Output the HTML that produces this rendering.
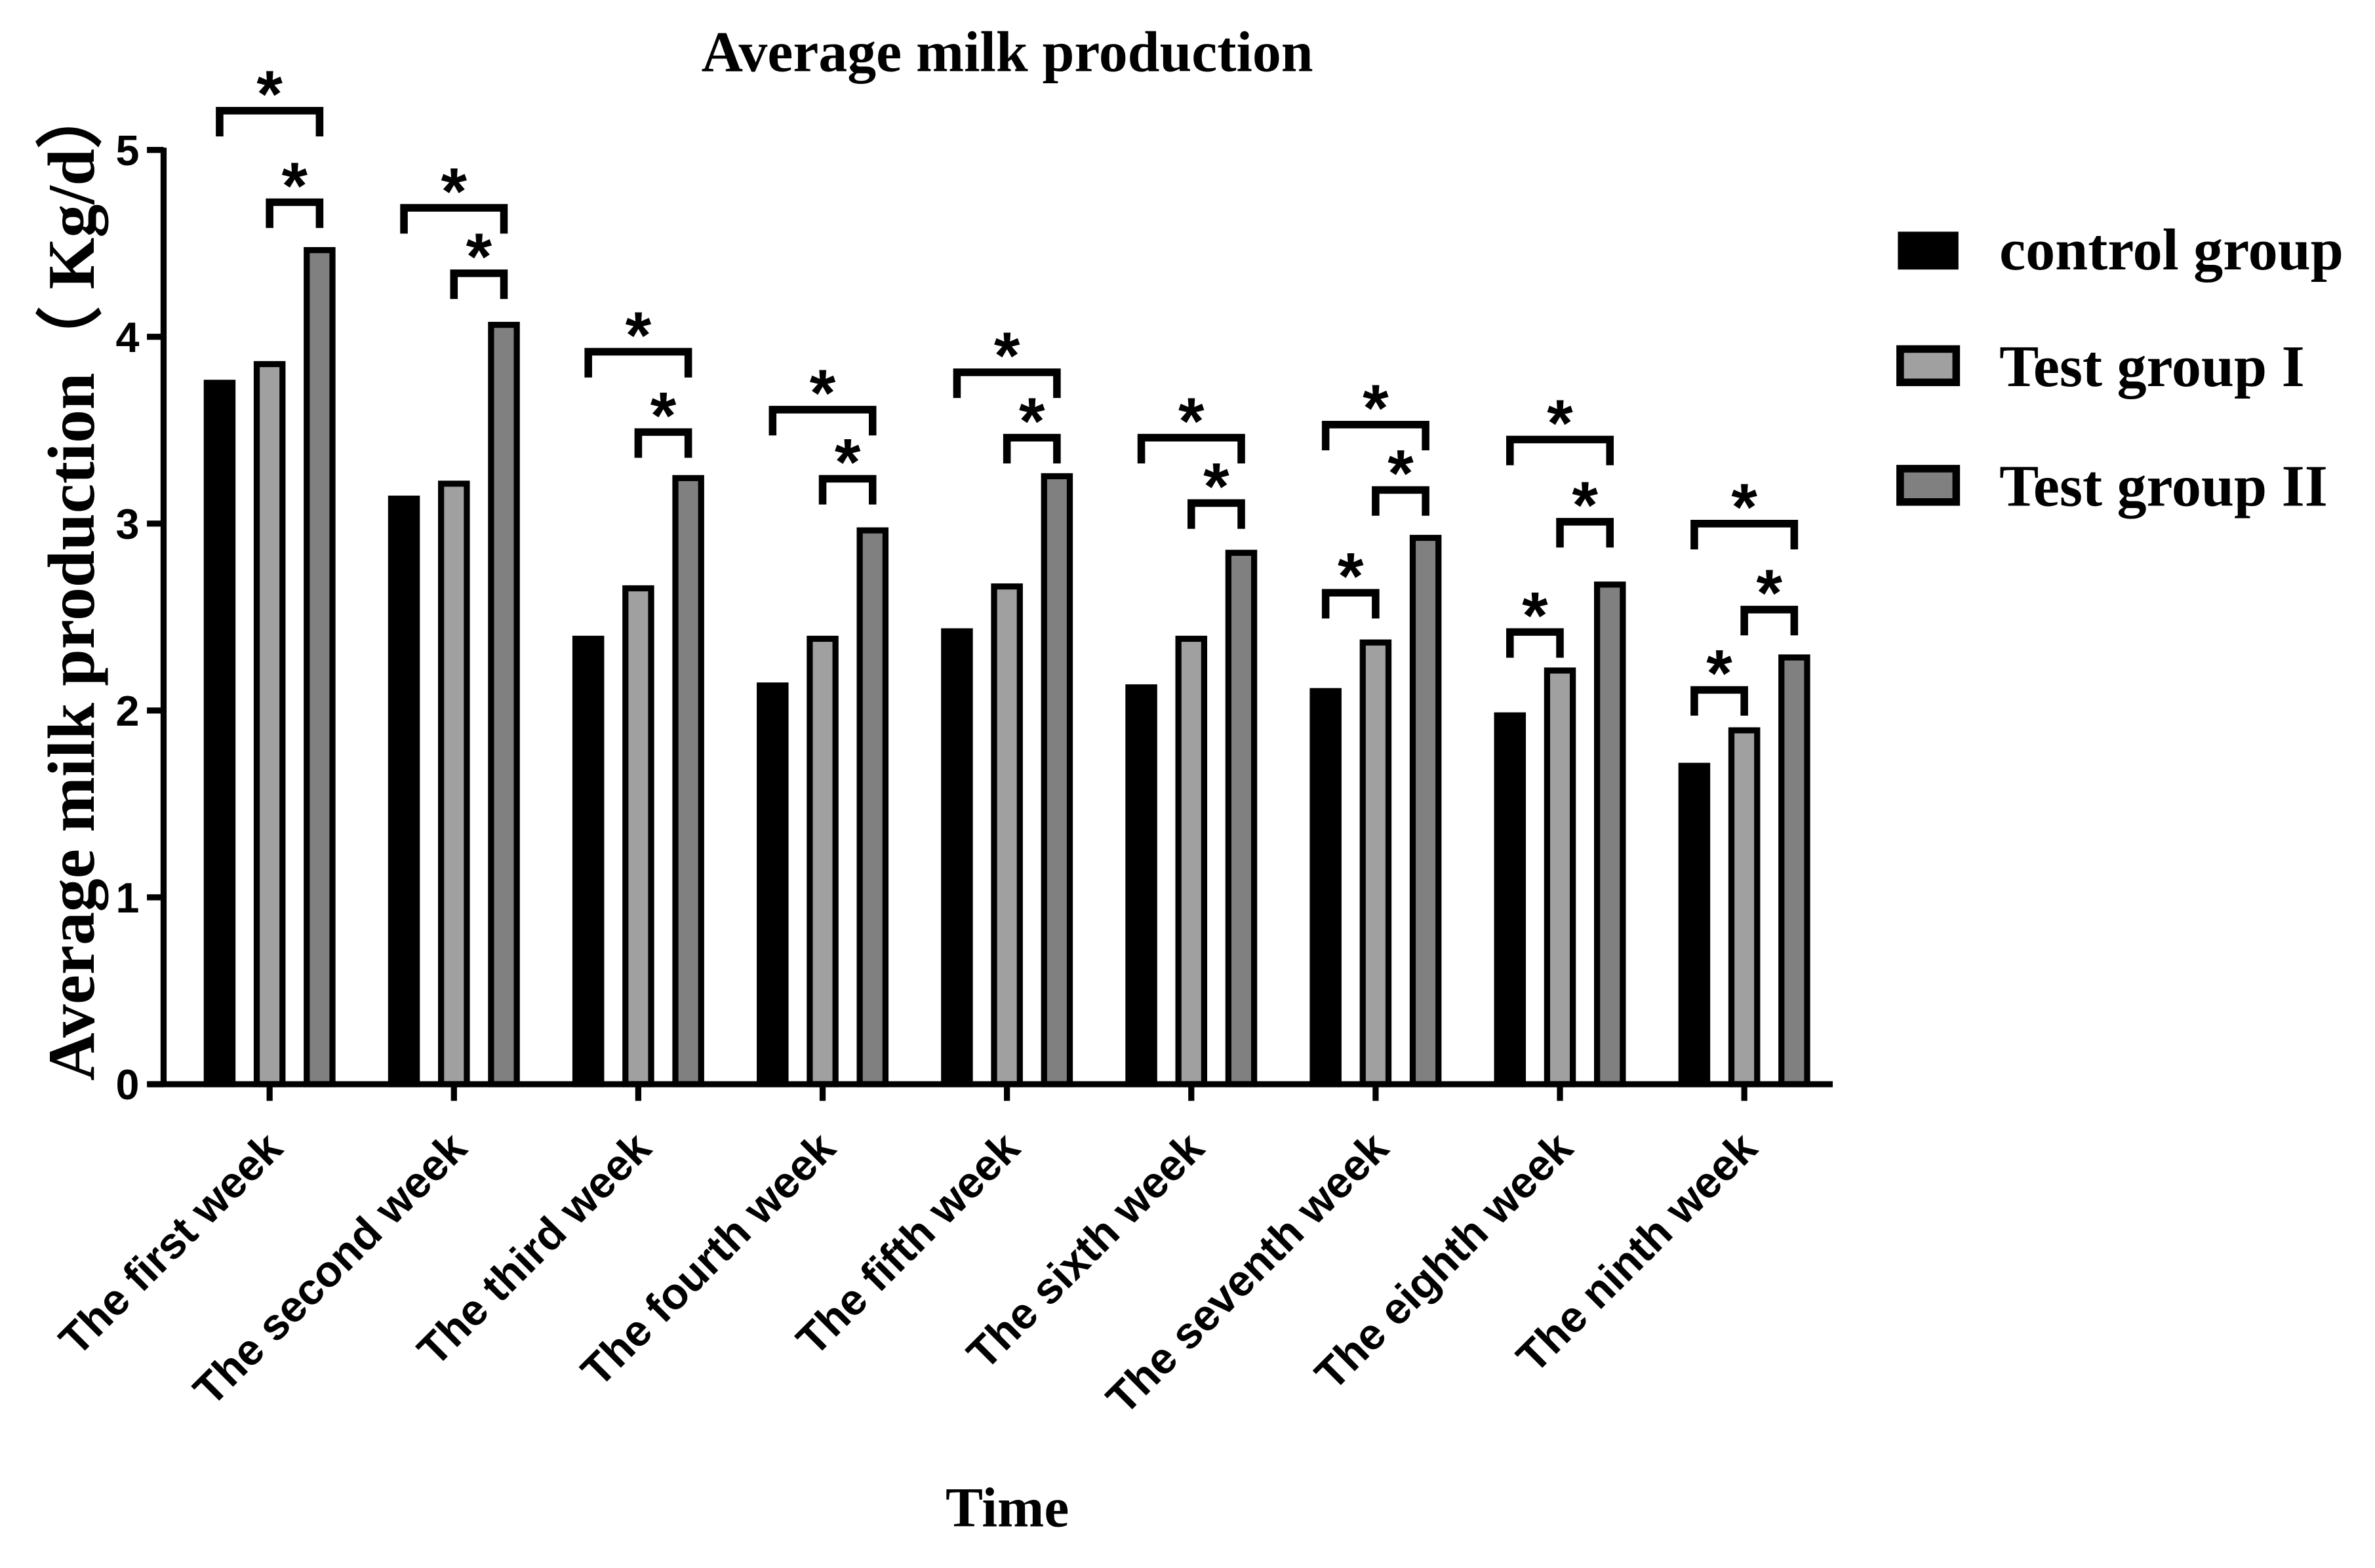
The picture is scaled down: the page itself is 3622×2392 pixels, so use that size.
<!DOCTYPE html>
<html><head><meta charset="utf-8"><style>html,body{margin:0;padding:0;background:#fff}svg{display:block}</style></head>
<body>
<svg id="chart" width="3622" height="2392" viewBox="0 0 1568 1035.5" xmlns="http://www.w3.org/2000/svg">
<rect width="1568" height="1035.5" fill="#fff"/>
<text x="665" y="47" text-anchor="middle" font-family="Liberation Serif, serif" font-weight="bold" font-size="38">Average milk production</text>
<text transform="translate(62,384) rotate(-90)" text-anchor="middle" font-family="Liberation Serif, serif" font-weight="bold" font-size="44">Average milk production（ Kg/d）</text>
<text x="665" y="1008" text-anchor="middle" font-family="Liberation Serif, serif" font-weight="bold" font-size="37">Time</text>
<g id="plot"></g>
<g font-family="Liberation Serif, serif" font-weight="bold" font-size="39">
<rect x="1253" y="153" width="40" height="25" fill="#000"/>
<text x="1320" y="178">control group</text>
<rect x="1254.5" y="230.5" width="37" height="22" fill="#a0a0a0" stroke="#000" stroke-width="5"/>
<text x="1320" y="255">Test group I</text>
<rect x="1254.5" y="309.5" width="37" height="22" fill="#808080" stroke="#000" stroke-width="5"/>
<text x="1320" y="334">Test group II</text>
</g>
</svg>
<script>
const categories = ["The first week","The second week","The third week","The fourth week","The fifth week","The sixth week","The seventh week","The eighth week","The ninth week"];
const controlValues = [3.77,3.15,2.40,2.15,2.44,2.14,2.12,1.99,1.72];
const test1Values = [3.87,3.23,2.67,2.40,2.68,2.40,2.38,2.23,1.91];
const test2Values = [4.48,4.08,3.26,2.98,3.27,2.86,2.94,2.69,2.30];
const bigBracketLevel = [5.21,4.69,3.92,3.61,3.81,3.46,3.53,3.45,3.00];
const smallBracketLevel = [4.72,4.34,3.49,3.24,3.46,3.11,3.18,3.01,2.54];
const ciBracketLevel = [null,null,null,null,null,null,2.63,2.42,2.11];
const yTicks = [0,1,2,3,4,5];

const NS = "http://www.w3.org/2000/svg";
const plot = document.getElementById("plot");
const X0 = 108, Y0 = 716, Y5 = 99, XEND = 1210;
const yScale = v => Y0 - (Y0 - Y5) * v / 5;
const groupX = i => 178 + i * 121.7;
function mk(tag, attrs, parent) {
  const e = document.createElementNS(NS, tag);
  for (const k in attrs) e.setAttribute(k, attrs[k]);
  (parent || plot).appendChild(e);
  return e;
}
const BW = 21, OFF = 33;
const series = [
  {vals: controlValues, fill: "#000", off: -OFF, name: "bar-control"},
  {vals: test1Values, fill: "#a0a0a0", off: 0, name: "bar-test-1"},
  {vals: test2Values, fill: "#808080", off: OFF, name: "bar-test-2"}
];
categories.forEach((c, i) => {
  const cx = groupX(i);
  series.forEach(s => {
    const top = yScale(s.vals[i]);
    const r = mk("rect", {x: cx + s.off - BW/2 + 2, y: top + 2, width: BW - 4, height: Y0 - top - 2, fill: s.fill, stroke: "#000", "stroke-width": 4});
    
    
  });
  function bracket(x1, x2, lv, nm) {
    const y = yScale(lv);
    const p = mk("path", {d: `M${x1},${y+17} V${y} H${x2} V${y+17}`, fill: "none", stroke: "#000", "stroke-width": 5});
    
    
    const t = mk("text", {x: (x1+x2)/2, y: y + 4, "text-anchor": "middle", "font-family": "Liberation Sans, sans-serif", "font-weight": "bold", "font-size": 44});
    t.textContent = "*";
    
    
  }
  bracket(cx - OFF, cx + OFF, bigBracketLevel[i], "bracket-control-vs-test-2");
  bracket(cx, cx + OFF, smallBracketLevel[i], "bracket-test-1-vs-test-2");
  if (ciBracketLevel[i] !== null) bracket(cx - OFF, cx, ciBracketLevel[i], "bracket-control-vs-test-1");
  const tk = mk("line", {x1: cx, x2: cx, y1: Y0, y2: Y0 + 11, stroke: "#000", "stroke-width": 4});
  
  
  const lb = mk("text", {transform: `translate(${cx + 10},${Y0 + 44}) rotate(-45)`, "text-anchor": "end", "font-family": "Liberation Sans, sans-serif", "font-weight": "bold", "font-size": 29});
  lb.textContent = c;
  
  
});
const ya = mk("line", {x1: X0, x2: X0, y1: Y5 - 1.5, y2: Y0 + 1.5, stroke: "#000", "stroke-width": 4});


const xa = mk("line", {x1: X0 - 10, x2: XEND, y1: Y0, y2: Y0, stroke: "#000", "stroke-width": 4});


yTicks.forEach(v => {
  const y = yScale(v);
  const l = mk("line", {x1: X0 - 11, x2: X0, y1: y, y2: y, stroke: "#000", "stroke-width": 4});
  
  
  const t = mk("text", {x: X0 - 16, y: y + 10, "text-anchor": "end", "font-family": "Liberation Sans, sans-serif", "font-weight": "bold", "font-size": 28});
  t.textContent = v;
  
  
});
</script>
</body></html>
